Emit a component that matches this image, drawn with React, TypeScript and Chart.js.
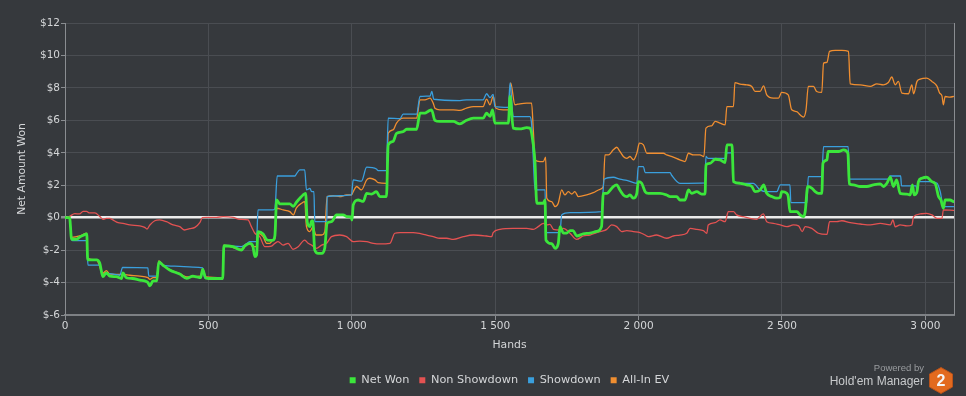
import React, { useEffect, useRef } from "react";
import { Chart, registerables } from "chart.js";

Chart.register(...registerables);

const BG = "#36393d";
const GRID = "#4a4d52";
const AXIS = "#8a8d91";
const TEXT = "#d4d6d8";
const FONT = "'DejaVu Sans', Verdana, sans-serif";

const X_MAX = 3100;
const Y_MIN = -6;
const Y_MAX = 12;
const xTickValues = [0, 500, 1000, 1500, 2000, 2500, 3000];

const seriesNames = ["Net Won", "Non Showdown", "Showdown", "All-In EV"];
const seriesColors = ["#3be63b", "#e35252", "#3a9fdd", "#f08e30"];

const netWonHands = [0,16,23,41,51,62,76,79,110,121,132,144,156,179,197,202,214,236,261,278,289,296,307,320,327,341,365,400,424,446,459,473,480,491,515,550,554,585,615,627,645,655,662,668,673,691,703,714,726,732,738,749,784,796,807,819,830,839,845,854,860,864,871,883,895,906,914,929,947,970,982,997,1001,1005,1022,1040,1052,1069,1086,1098,1121,1127,1144,1156,1179,1191,1226,1238,1255,1266,1278,1290,1307,1354,1377,1400,1424,1458,1470,1482,1491,1499,1546,1552,1563,1586,1610,1621,1633,1639,1645,1668,1674,1677,1697,1709,1720,1726,1738,1749,1761,1772,1784,1807,1831,1854,1871,1877,1889,1912,1924,1935,1947,1959,1970,1982,1994,1999,2011,2023,2034,2075,2098,2110,2133,2144,2162,2174,2185,2203,2220,2232,2235,2249,2267,2284,2302,2308,2326,2331,2354,2377,2395,2406,2424,2436,2447,2465,2482,2494,2499,2517,2522,2528,2552,2563,2575,2581,2590,2604,2616,2627,2639,2643,2657,2661,2697,2715,2730,2735,2749,2773,2796,2819,2843,2854,2866,2878,2889,2900,2912,2936,2947,2955,2961,2971,2976,2988,3005,3023,3035,3046,3054,3063,3069,3086,3098];
const netWonValues = [0,0,-1.33,-1.33,-1.2,-1.1,-1.0,-2.6,-2.6,-2.8,-3.64,-3.4,-3.6,-3.64,-3.75,-3.4,-3.7,-3.75,-3.85,-3.9,-4.0,-4.2,-3.9,-3.9,-2.72,-2.92,-3.23,-3.48,-3.74,-3.6,-3.65,-3.7,-3.19,-3.72,-3.75,-3.75,-1.73,-1.79,-2.0,-1.75,-1.58,-1.75,-2.4,-2.3,-0.86,-1.0,-1.35,-1.4,-1.38,-1.1,1.09,0.85,0.85,0.7,0.95,1.2,1.4,1.5,-0.3,-0.55,-0.2,-0.2,-2.0,-2.2,-2.2,-1.85,-0.33,-0.25,0.17,0.17,0.07,0.05,-0.15,0.78,1.09,1.0,1.5,1.45,1.6,1.3,1.3,4.49,4.7,5.2,5.3,5.45,5.45,6.44,6.44,6.55,6.65,6.0,5.93,5.93,5.78,6.0,6.13,6.13,6.44,6.25,6.65,5.83,5.83,7.47,5.52,5.47,5.55,5.52,4.5,3.36,0.89,0.89,1.1,-1.38,-1.6,-1.89,-1.6,-0.55,-0.95,-0.95,-0.8,-0.8,-1.13,-1.0,-0.95,-0.85,-0.55,1.5,1.5,1.92,2.02,1.7,1.4,1.3,1.4,1.2,1.5,2.22,2.12,1.6,1.5,1.5,1.4,1.3,1.3,1.09,1.09,1.71,1.5,1.6,1.45,1.45,3.25,3.35,3.6,3.56,3.4,4.49,4.49,2.22,2.12,2.02,1.92,1.6,1.7,2.02,1.5,1.3,1.2,1.25,1.6,1.5,1.3,0.37,0.37,0.17,0.06,0.37,1.92,1.82,1.6,1.5,1.5,3.36,3.56,4.08,4.08,4.18,3.97,2.08,2.02,1.92,1.92,2.02,2.08,1.92,2.12,2.49,1.92,2.33,1.5,1.45,1.4,2.02,1.4,1.6,2.22,2.43,2.49,2.22,2.08,1.3,1.1,0.58,1.09,1.09,0.99];

const nonShowdownHands = [0,16,34,51,63,75,86,104,121,133,144,156,167,185,202,226,261,278,286,296,313,330,354,377,400,417,435,453,470,479,493,528,551,586,610,638,650,662,679,697,720,732,743,761,778,795,813,836,848,860,877,895,912,929,958,982,1005,1028,1052,1075,1098,1133,1150,1168,1214,1243,1261,1284,1307,1331,1354,1389,1424,1470,1488,1493,1517,1563,1610,1633,1650,1668,1680,1691,1703,1726,1738,1761,1784,1807,1831,1854,1879,1889,1906,1924,1941,1959,1982,2005,2023,2034,2063,2098,2121,2144,2168,2180,2203,2226,2238,2243,2267,2284,2302,2313,2331,2342,2366,2389,2412,2435,2447,2470,2494,2517,2540,2558,2571,2581,2604,2627,2657,2666,2692,2709,2738,2773,2808,2843,2878,2887,2895,2912,2936,2953,2959,2982,3005,3023,3041,3058,3063,3098];
const nonShowdownValues = [0,0.08,0.25,0.23,0.39,0.39,0.29,0.29,0.08,-0.1,-0.04,-0.04,-0.14,-0.31,-0.35,-0.45,-0.51,-0.6,-0.7,-0.45,-0.19,-0.14,-0.25,-0.45,-0.55,-0.76,-0.68,-0.6,-0.31,0,0.02,0.02,0.06,0.02,-0.1,-0.14,-0.55,-0.96,-1.17,-1.79,-1.75,-1.58,-1.48,-1.69,-1.58,-1.95,-1.79,-1.38,-1.58,-1.69,-1.89,-1.69,-1.58,-1.17,-1.07,-1.17,-1.48,-1.45,-1.48,-1.58,-1.62,-1.58,-0.96,-0.92,-0.92,-1.0,-1.07,-1.17,-1.27,-1.27,-1.34,-1.17,-1.07,-1.13,-1.17,-0.92,-0.72,-0.66,-0.66,-0.72,-0.55,-0.35,-0.45,-0.41,-0.72,-0.76,-0.66,-0.96,-1.34,-1.13,-1.07,-0.92,-0.8,-0.72,-0.45,-0.55,-0.86,-0.8,-0.86,-0.92,-1.07,-1.17,-1.07,-1.27,-1.13,-1.07,-0.96,-0.66,-0.72,-0.8,-0.96,-0.45,-0.31,-0.14,-0.25,0.37,0.37,0.17,0.06,-0.04,-0.1,0.23,-0.25,-0.35,-0.45,-0.55,-0.45,-0.51,-0.86,-0.55,-0.66,-0.96,-1.03,-0.25,-0.25,-0.19,-0.31,-0.39,-0.45,-0.35,-0.45,-0.14,-0.56,-0.45,-0.51,-0.45,0.06,0.23,0.27,0.17,-0.04,-0.04,0.48,0.45];

const showdownHands = [0,16,23,27,76,80,121,132,156,191,201,289,292,320,327,341,400,446,480,487,550,554,615,634,645,668,673,726,732,740,802,807,819,836,842,854,860,868,871,913,914,958,999,1005,1034,1052,1086,1092,1121,1127,1168,1179,1226,1238,1273,1279,1286,1377,1400,1458,1470,1482,1493,1499,1546,1552,1563,1621,1627,1633,1639,1674,1677,1726,1732,1761,1871,1880,1912,1935,1959,1994,1999,2017,2023,2110,2116,2144,2232,2235,2242,2302,2308,2326,2331,2354,2400,2424,2447,2482,2494,2528,2531,2587,2592,2639,2645,2731,2735,2873,2876,2914,2917,2968,2971,2976,3017,3041,3052,3063,3098];
const showdownValues = [0,0,-1.33,-1.42,-1.42,-2.92,-2.92,-3.5,-3.45,-3.55,-3.06,-3.1,-3.6,-3.6,-2.82,-2.92,-3.0,-3.05,-3.1,-3.72,-3.75,-1.73,-1.79,-1.6,-1.48,-1.48,0.48,0.48,0.55,2.57,2.57,2.7,2.94,2.94,1.71,1.8,1.6,1.6,-0.25,-0.25,1.3,1.35,1.4,2.33,2.25,3.11,3.0,2.9,2.9,6.13,6.1,6.38,6.38,7.47,7.5,7.78,7.3,7.22,7.26,7.26,7.64,7.4,7.6,6.85,6.8,8.3,6.23,6.23,5.8,3.66,1.71,1.71,-0.92,-0.92,0.17,0.31,0.37,2.37,2.49,2.37,2.3,2.12,3.15,3.15,2.78,2.78,2.6,2.12,2.15,3.77,3.66,3.66,4.0,4.0,2.22,2.12,2.12,1.71,1.6,1.6,2.02,2.02,0.93,0.93,2.53,2.53,4.38,4.38,2.37,2.37,2.57,2.57,1.96,1.96,1.5,2.22,2.22,2.12,1.6,0.68,0.68];

const allInEvHands = [0,16,23,51,75,79,110,132,144,156,201,226,261,289,296,307,320,327,341,365,400,424,473,480,491,550,554,615,634,645,655,668,673,691,703,714,726,732,738,761,784,796,807,825,836,842,854,865,875,895,906,914,935,958,982,999,1005,1017,1034,1052,1063,1081,1092,1121,1127,1144,1156,1179,1226,1238,1255,1273,1284,1290,1307,1354,1377,1400,1424,1458,1470,1482,1493,1503,1528,1546,1554,1569,1586,1610,1627,1633,1639,1656,1668,1676,1680,1697,1709,1720,1732,1743,1755,1767,1778,1790,1819,1842,1866,1877,1883,1895,1912,1924,1935,1947,1959,1970,1982,1994,2003,2017,2029,2087,2098,2121,2144,2162,2174,2191,2214,2228,2235,2255,2267,2284,2302,2308,2331,2336,2354,2377,2395,2406,2424,2436,2447,2470,2488,2499,2522,2534,2552,2563,2575,2584,2592,2610,2621,2639,2645,2657,2666,2686,2709,2732,2738,2773,2808,2831,2854,2871,2883,2895,2906,2918,2941,2953,2959,2971,2982,3005,3023,3041,3050,3058,3063,3069,3086,3098];
const allInEvValues = [0,0,-1.21,-1.13,-0.96,-2.5,-2.61,-3.43,-3.27,-3.48,-3.5,-3.55,-3.6,-3.7,-3.8,-3.7,-3.7,-2.67,-2.9,-3.2,-3.45,-3.65,-3.6,-3.15,-3.65,-3.7,-1.7,-1.95,-1.6,-1.6,-1.79,-1.79,-0.96,-1.17,-1.58,-1.58,-1.38,-1.3,0.58,0.48,0.37,0.17,0.6,0.89,0.99,-0.55,-0.86,-0.55,-1.07,-1.07,-0.86,1.3,1.35,1.3,1.4,1.4,1.6,1.92,1.71,2.33,2.43,2.33,2.16,2.12,5.2,5.41,5.83,6.13,6.13,7.26,7.26,7.37,7.06,6.75,6.65,6.65,6.61,6.75,6.85,6.85,7.31,6.96,7.47,6.75,6.65,6.65,8.3,6.96,7.02,7.06,7.06,5.41,3.56,3.46,3.46,3.73,1.2,0.99,0.68,0.89,1.71,1.4,1.6,1.46,1.6,1.3,1.4,1.54,1.75,1.92,3.87,3.87,4.18,4.34,4.08,3.77,3.66,3.77,3.56,3.97,4.59,4.49,3.97,3.97,3.87,3.73,3.56,3.46,3.97,3.87,3.87,3.77,5.52,5.66,5.93,5.83,5.72,6.85,6.85,8.33,8.23,8.19,8.09,7.78,7.78,8.13,7.57,7.37,7.37,7.72,7.57,6.65,6.54,6.34,6.2,6.65,8.09,8.09,7.78,7.72,9.53,9.57,10.25,10.31,10.31,10.25,8.25,8.19,8.09,8.25,8.19,8.33,8.67,8.19,8.4,7.68,7.64,8.19,7.64,8.4,8.54,8.6,8.4,8.09,7.68,7.51,6.96,7.47,7.43,7.47];

function toPoints(hands: number[], values: number[]) {
  return hands.map((x, i) => ({ x, y: values[i] }));
}

function formatHands(v: number) {
  return String(v).replace(/\B(?=(\d{3})+(?!\d))/g, " ");
}

const rightBorder = {
  id: "rightBorder",
  beforeDatasetsDraw(chart: any) {
    const { ctx, chartArea } = chart;
    ctx.save();
    ctx.strokeStyle = AXIS;
    ctx.lineWidth = 1;
    ctx.beginPath();
    ctx.moveTo(Math.round(chartArea.right) + 0.5, chartArea.top);
    ctx.lineTo(Math.round(chartArea.right) + 0.5, chartArea.bottom);
    ctx.stroke();
    ctx.restore();
  },
};

export default function App() {
  const canvasRef = useRef<HTMLCanvasElement | null>(null);

  useEffect(() => {
    if (!canvasRef.current) return;
    const seriesData = [
      toPoints(netWonHands, netWonValues),
      toPoints(nonShowdownHands, nonShowdownValues),
      toPoints(showdownHands, showdownValues),
      toPoints(allInEvHands, allInEvValues),
    ];
    const widths = [2.8, 1.3, 1.3, 1.3];
    const chart = new Chart(canvasRef.current, {
      type: "line",
      data: {
        datasets: seriesNames.map((name, i) => ({
          label: name,
          data: seriesData[i],
          borderColor: seriesColors[i],
          backgroundColor: seriesColors[i],
          borderWidth: widths[i],
          pointRadius: 0,
          pointHoverRadius: 0,
          cubicInterpolationMode: "monotone" as const,
          fill: false,
        })),
      },
      options: {
        animation: false,
        responsive: false,
        maintainAspectRatio: false,
        layout: { padding: { top: 23, right: 12, left: 0, bottom: 0 } },
        elements: { line: { borderJoinStyle: "round", borderCapStyle: "round" } },
        plugins: {
          legend: {
            position: "bottom",
            fullSize: false,
            labels: {
              boxWidth: 6,
              boxHeight: 6,
              padding: 10,
              color: TEXT,
              font: { family: FONT, size: 11.3 },
              generateLabels: (c: any) =>
                Chart.defaults.plugins.legend.labels
                  .generateLabels(c)
                  .map((l: any) => ({ ...l, lineWidth: 0, strokeStyle: "rgba(0,0,0,0)" })),
            },
          },
          tooltip: { enabled: false },
        },
        scales: {
          x: {
            type: "linear",
            min: 0,
            max: X_MAX,
            afterFit: (s: any) => {
              s.height = 49.7;
            },
            afterBuildTicks: (s: any) => {
              s.ticks = xTickValues.map((v) => ({ value: v }));
            },
            ticks: {
              autoSkip: false,
              padding: 0,
              color: TEXT,
              font: { family: FONT, size: 10.5 },
              maxRotation: 0,
              callback: (v: any) => formatHands(Number(v)),
            },
            grid: { color: GRID, tickColor: AXIS, tickLength: 5, lineWidth: 1 },
            border: { color: "#7e8185", width: 2 },
            title: {
              display: true,
              text: "Hands",
              color: TEXT,
              font: { family: FONT, size: 10.8 },
              padding: { top: 0, bottom: 12.7 },
            },
          },
          y: {
            type: "linear",
            min: Y_MIN,
            max: Y_MAX,
            afterFit: (s: any) => {
              s.width = 65;
            },
            ticks: {
              stepSize: 2,
              padding: 1,
              color: TEXT,
              font: { family: FONT, size: 10.5 },
              callback: (v: any) => "$" + v,
            },
            grid: {
              color: (c: any) => (c.tick && c.tick.value === 0 ? "#ececec" : GRID),
              lineWidth: (c: any) => (c.tick && c.tick.value === 0 ? 2.5 : 1),
              tickColor: AXIS,
              tickLength: 4,
            },
            border: { color: AXIS, width: 1 },
            title: {
              display: true,
              text: "Net Amount Won",
              color: TEXT,
              font: { family: FONT, size: 10.8 },
              padding: { top: 16, bottom: 0 },
            },
          },
        },
      } as any,
      plugins: [rightBorder],
    });
    return () => chart.destroy();
  }, []);

  return (
    <div
      style={{
        position: "fixed",
        left: 0,
        top: 0,
        width: 966,
        height: 396,
        background: BG,
        overflow: "hidden",
      }}
    >
      <canvas ref={canvasRef} width={966} height={396} style={{ display: "block" }} />
      <div
        style={{
          position: "absolute",
          left: 800,
          top: 362,
          width: 124,
          textAlign: "right",
          fontFamily: "'Liberation Sans', Arial, sans-serif",
          fontSize: 9.5,
          lineHeight: "12px",
          color: "#9a9da0",
        }}
      >
        Powered by
      </div>
      <div
        style={{
          position: "absolute",
          left: 770,
          top: 374,
          width: 154,
          textAlign: "right",
          fontFamily: "'Liberation Sans', Arial, sans-serif",
          fontSize: 12,
          lineHeight: "14px",
          color: "#c8cacc",
        }}
      >
        Hold'em Manager
      </div>
      <div style={{ position: "absolute", left: 929, top: 367, width: 24, height: 27 }}>
        <svg width={24} height={27} viewBox="0 0 24 27" style={{ position: "absolute", left: 0, top: 0 }}>
          <polygon points="12,0.5 23.5,7 23.5,20 12,26.5 0.5,20 0.5,7" fill="#e26a1f" stroke="#b9531a" strokeWidth={1} />
        </svg>
        <div
          style={{
            position: "absolute",
            left: 0,
            top: 0,
            width: 24,
            height: 27,
            lineHeight: "27px",
            textAlign: "center",
            fontFamily: "'Liberation Sans', Arial, sans-serif",
            fontWeight: 700,
            fontSize: 16,
            color: "#f4f4f4",
          }}
        >
          2
        </div>
      </div>
    </div>
  );
}
